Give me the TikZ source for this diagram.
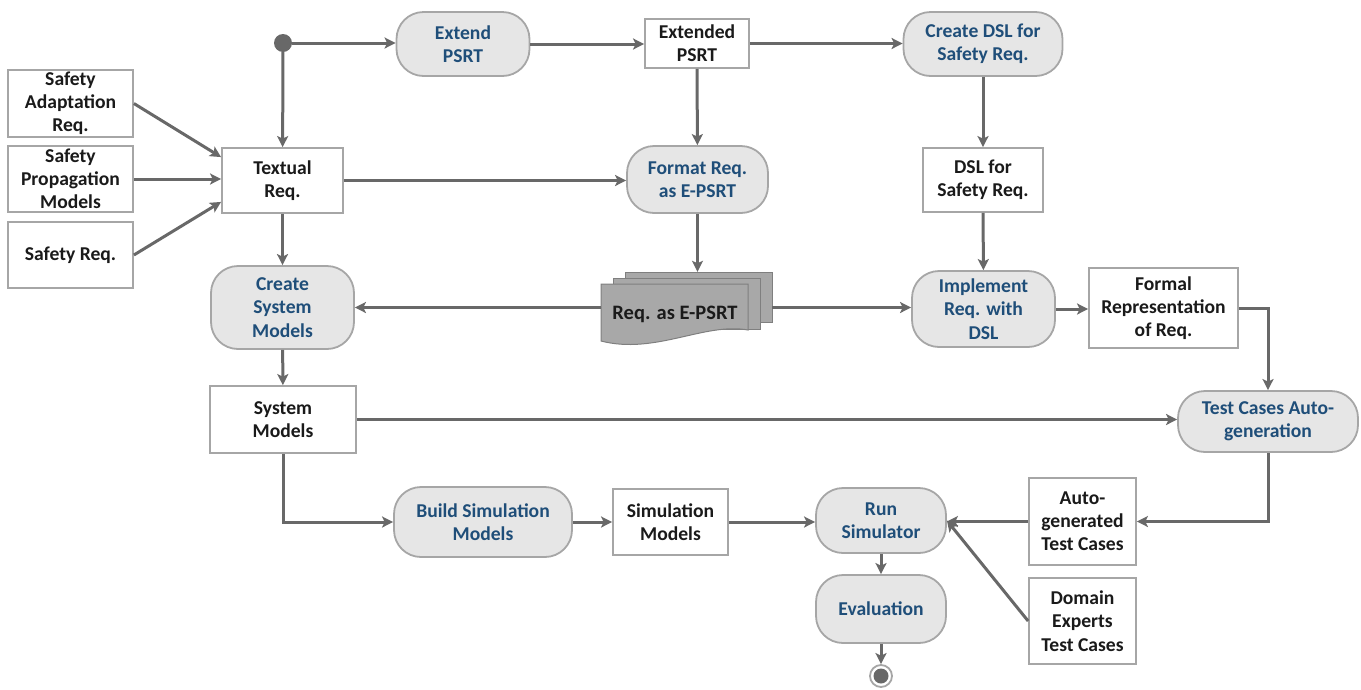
\documentclass[tikz,border=0pt]{standalone}
\usepackage{fontspec}
\setmainfont{Carlito}
\usetikzlibrary{arrows.meta,calc}
\definecolor{lc}{HTML}{686868}
\definecolor{bd}{HTML}{A6A6A6}
\definecolor{pf}{HTML}{E6E6E6}
\definecolor{tb}{HTML}{1F4E79}
\definecolor{tk}{HTML}{1A1A1A}
\definecolor{docf}{HTML}{A8A8A8}
\definecolor{docb}{HTML}{7F7F7F}
\tikzset{
  base/.style={inner sep=0pt, align=center, font=\bfseries\fontsize{19.6}{23.2}\selectfont, line width=1.8pt, draw=bd},
  pill/.style={base, fill=pf, text=tb, rounded corners=27pt},
  box/.style={base, fill=white, text=tk},
  arr/.style={draw=lc, line width=3pt, -{Stealth[length=11pt,width=11pt,inset=2.5pt]}},
}
\begin{document}
\begin{tikzpicture}[x=1pt,y=-1pt]
\useasboundingbox (0,0) rectangle (1361,689);
% nodes
\node[circle, fill=lc, inner sep=0pt, minimum size=18pt] (start) at (283,43) {};
\node[pill, minimum width=133pt, minimum height=64pt] (ext) at (463,44) {Extend\\PSRT};
\node[box, minimum width=104pt, minimum height=49pt] (extd) at (697,43.5) {Extended\\PSRT};
\node[pill, minimum width=159pt, minimum height=64pt] (cdsl) at (983,44) {Create DSL for\\Safety Req.};
\node[box, minimum width=125pt, minimum height=67pt] (sar) at (70.5,103.5) {Safety\\Adaptation\\Req.};
\node[box, minimum width=125pt, minimum height=66pt] (spm) at (70.5,179) {Safety\\Propagation\\Models};
\node[box, minimum width=125pt, minimum height=66pt] (sr) at (70.5,255) {Safety Req.};
\node[box, minimum width=121pt, minimum height=65pt] (treq) at (282.5,180.5) {Textual\\Req.};
\node[pill, minimum width=141pt, minimum height=67pt] (fmt) at (697.5,179.5) {Format Req.\\as E-PSRT};
\node[box, minimum width=120pt, minimum height=64pt] (dsl) at (983,180) {DSL for\\Safety Req.};
\node[pill, minimum width=143pt, minimum height=83pt] (csm) at (282.5,307.5) {Create\\System\\Models};
\node[pill, minimum width=143pt, minimum height=76pt] (impl) at (983.5,309) {Implement\\Req. with\\DSL};
\node[box, minimum width=149pt, minimum height=80pt] (formal) at (1163.5,308) {Formal\\Representation\\of Req.};
\node[box, minimum width=146pt, minimum height=67pt] (sysm) at (283,419.5) {System\\Models};
\node[pill, minimum width=180pt, minimum height=61pt] (tcag) at (1268,421.5) {Test Cases Auto-\\generation};
\node[pill, minimum width=178pt, minimum height=70pt] (bsm) at (483,522) {Build Simulation\\Models};
\node[box, minimum width=115pt, minimum height=66pt] (simm) at (670.5,522) {Simulation\\Models};
\node[pill, minimum width=130pt, minimum height=65pt] (run) at (881,520.5) {Run\\Simulator};
\node[box, minimum width=107pt, minimum height=87pt] (agtc) at (1082.5,521.5) {Auto-\\generated\\Test Cases};
\node[pill, minimum width=130pt, minimum height=68pt] (eval) at (881,609) {Evaluation};
\node[box, minimum width=107pt, minimum height=86pt] (detc) at (1082.5,621) {Domain\\Experts\\Test Cases};
\node[circle, draw=bd, fill=white, line width=1.8pt, inner sep=0pt, minimum size=22pt] (end) at (881,676) {};
\fill[lc] (end.center) circle (7.5pt);
% document stack
\node[inner sep=0pt, minimum width=171pt, minimum height=71pt] (doc) at (686.5,307.5) {};
\draw[fill=docf, draw=docb, line width=1pt] (625,272) rectangle (772,322);
\draw[fill=docf, draw=docb, line width=1pt] (613,278) rectangle (760,329);
\draw[fill=docf, draw=docb, line width=1pt] (601,284) -- (748,284) -- (748,330)
  .. controls (705,322) and (655,355) .. (601,341) -- cycle;
\node[font=\bfseries\fontsize{20.5}{23}\selectfont, text=tk] (doctext) at (675,314) {Req. as E-PSRT};
% connectors
\draw[arr] (start.east) -- (start.east -| ext.west);
\draw[arr] (start) -- (treq);
\draw[arr] (ext.east) -- (ext.east -| extd.west);
\draw[arr] (extd.east) -- (extd.east -| cdsl.west);
\draw[arr] (extd) -- (fmt);
\draw[arr] (cdsl) -- (dsl);
\draw[arr] (dsl) -- (impl);
\draw[arr] (sar.east) -- ([yshift=-10pt]treq.north west);
\draw[arr] (spm.east) -- (spm.east -| treq.west);
\draw[arr] (sr.east) -- ([yshift=12pt]treq.south west);
\draw[arr] (treq.east) -- (treq.east -| fmt.west);
\draw[arr] (treq) -- (csm);
\draw[arr] (fmt.south) -- (fmt.south |- doc.north);
\draw[arr] (doc.west) -- (doc.west -| csm.east);
\draw[arr] (doc.east) -- (doc.east -| impl.west);
\draw[arr] (impl.east) -- (impl.east -| formal.west);
\draw[arr] (formal.east) -| (tcag.north);
\draw[arr] (csm) -- (sysm);
\draw[arr] (sysm.east) -- (sysm.east -| tcag.west);
\draw[arr] (sysm.south) |- (bsm.west);
\draw[arr] (bsm.east) -- (bsm.east -| simm.west);
\draw[arr] (simm.east) -- (simm.east -| run.west);
\draw[arr] (tcag.south) |- (agtc.east);
\draw[arr] (agtc.west) -- (agtc.west -| run.east);
\draw[arr] (detc.west) -- (run.east);
\draw[arr] (run) -- (eval);
\draw[arr] (eval) -- (end);
\end{tikzpicture}
\end{document}
